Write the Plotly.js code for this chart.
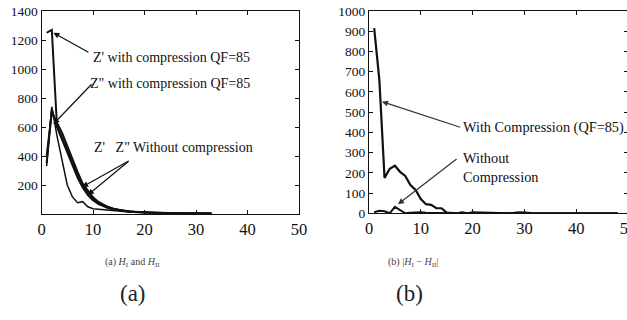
<!DOCTYPE html>
<html>
<head>
<meta charset="utf-8">
<script src="https://cdn.plot.ly/plotly-3.0.1.min.js"></script>
<style>
html,body{margin:0;padding:0;background:#fff;overflow:hidden;width:627px;height:320px;}
#chart{width:640px;height:320px;}
</style>
</head>
<body>
<div id="chart"></div>
<script>
// ---- Panel (a): H_I and H_II ----
const binsA = [1,2,3,4,5,6,7,8,9,10,11,12,13,14,15,16,17,18,19,20,21,22,23,24,25,26,27,28,29,30,31,32,33];
const zPrimeComp = [1250,1270,610,530,440,350,268,200,148,108,80,60,45,35,28,22,18,15,13,11,10,9,8,7,6,6,5,5,5,4,4,3,3];
const zDblComp   = [330,740,540,360,200,118,78,85,50,36,32,30,27,22,18,15,13,12,10,9,8,7,6,6,5,5,4,4,4,3,3,3,3];
const zPrimeNo   = [400,700,630,560,470,375,290,210,158,115,85,63,46,36,28,22,18,15,13,11,10,9,8,7,7,6,6,5,5,5,4,4,4];
const zDblNo     = [350,720,600,515,425,335,252,182,130,95,70,54,40,32,25,20,16,14,12,10,9,8,7,6,6,5,5,4,4,4,3,3,3];
const ticksAx = [0,10,20,30,40,50];
const ticksAy = [200,400,600,800,1000,1200,1400];

// ---- Panel (b): |H_I - H_II| ----
const binsB = [1,2,3,4,5,6,7,8,9,10,11,12,13,14,15,16,17,18,19,20,21,22,23,24,25,26,27,28,29,30,31,32,33,34,35,36,37,38,39,40,41,42,43,44,45,46,47,48];
const diffComp = [915,660,175,220,235,205,185,140,115,70,45,42,25,25,3,2,0,5,0,5,4,5,4,0,0,0,0,2,5,3,0,0,0,0,0,0,0,0,0,0,0,0,0,0,0,0,0,0];
const diffNo   = [5,12,10,0,32,18,0,3,5,5,3,2,0,0,0,0,0,0,0,0,0,0,0,0,0,0,0,0,0,0,0,0,0,0,0,0,0,0,0,0,0,0,0,0,0,0,0,0];
const ticksBx = [0,10,20,30,40,50];
const ticksBy = [0,100,200,300,400,500,600,700,800,900,1000];

const W = 640, H = 320;
const px = v => v / W;
const py = v => (H - v) / H;
const serif = "'Liberation Serif', 'DejaVu Serif', serif";

function line(x, y, xa, ya, w) {
  return {x: x, y: y, xaxis: xa, yaxis: ya, type: 'scatter', mode: 'lines',
          line: {color: '#111', width: w}, hoverinfo: 'skip', showlegend: false};
}

const data = [
  line(binsA, zPrimeNo, 'x', 'y', 2),
  line(binsA, zDblNo, 'x', 'y', 2),
  line(binsA, zDblComp, 'x', 'y', 1.5),
  line(binsA, zPrimeComp, 'x', 'y', 2),
  line(binsB, diffNo, 'x2', 'y2', 2),
  line(binsB, diffComp, 'x2', 'y2', 2.2)
];

const axisBase = {
  showline: true, mirror: 'ticks', linecolor: '#111', linewidth: 1,
  ticks: 'inside', ticklen: 4, tickcolor: '#111', showgrid: false, zeroline: false,
  tickfont: {family: serif, size: 13.5, color: '#111'}
};

function arrow(xr, yr, hx, hy, tx, ty, color) {
  return {xref: xr, yref: yr, axref: xr, ayref: yr,
          x: hx, y: hy, ax: tx, ay: ty, text: '', showarrow: true,
          arrowhead: 2, arrowsize: 1, arrowwidth: 1.2, arrowcolor: color};
}
function label(xr, yr, x, y, t, size) {
  return {xref: xr, yref: yr, x: x, y: y, text: t, showarrow: false,
          xanchor: 'left', yanchor: 'middle', align: 'left',
          font: {family: serif, size: size, color: '#111'}};
}

const annotations = [
  // panel (a)
  arrow('x', 'y', 2.3, 1250, 9.4, 1110, '#111'),
  arrow('x', 'y', 2.3, 620, 10.0, 905, '#111'),
  arrow('x', 'y', 7.9, 186, 17.2, 372, '#111'),
  arrow('x', 'y', 9.0, 131, 17.2, 372, '#111'),
  label('x', 'y', 9.6, 1076, "Z' with compression QF=85", 14),
  label('x', 'y', 9.0, 903, 'Z" with compression QF=85', 14),
  label('x', 'y', 9.8, 462, "Z'&nbsp;&nbsp;&nbsp;Z\" Without compression", 14),
  // panel (b)
  arrow('x2', 'y2', 2.5, 552, 17.9, 423, '#333'),
  arrow('x2', 'y2', 5.6, 45, 17.2, 274, '#333'),
  label('x2', 'y2', 17.8, 423, 'With Compression (QF=85)', 14.3),
  label('x2', 'y2', 17.8, 224, 'Without<br>Compression', 14.3),
  // captions
  {xref: 'paper', yref: 'paper', x: px(132), y: py(262), showarrow: false,
   text: '(a) <i>H</i><sub>I</sub> and <i>H</i><sub>II</sub>',
   font: {family: serif, size: 10, color: '#444'}, xanchor: 'center', yanchor: 'middle'},
  {xref: 'paper', yref: 'paper', x: px(413), y: py(262), showarrow: false,
   text: '(b) |<i>H</i><sub>I</sub> \u2212 <i>H</i><sub>II</sub>|',
   font: {family: serif, size: 10, color: '#444'}, xanchor: 'center', yanchor: 'middle'},
  {xref: 'paper', yref: 'paper', x: px(133), y: py(293), showarrow: false,
   text: '(a)', font: {family: serif, size: 23, color: '#222'}, xanchor: 'center', yanchor: 'middle'},
  {xref: 'paper', yref: 'paper', x: px(409), y: py(293), showarrow: false,
   text: '(b)', font: {family: serif, size: 23, color: '#222'}, xanchor: 'center', yanchor: 'middle'}
];

const layout = {
  width: W, height: H,
  margin: {l: 0, r: 0, t: 0, b: 0, pad: 0},
  paper_bgcolor: '#fff', plot_bgcolor: '#fff',
  showlegend: false,
  font: {family: serif},
  xaxis: Object.assign({}, axisBase, {domain: [px(41.5), px(299)], range: [0, 50],
          tickvals: ticksAx, ticktext: ticksAx.map(String), anchor: 'y',
          tickfont: {family: serif, size: 16.5, color: '#111'}}),
  yaxis: Object.assign({}, axisBase, {domain: [py(214), py(11)], range: [0, 1400],
          tickvals: ticksAy, ticktext: ticksAy.map(String), anchor: 'x'}),
  xaxis2: Object.assign({}, axisBase, {domain: [px(369), px(628)], range: [0, 50],
          tickvals: ticksBx, ticktext: ticksBx.map(String), anchor: 'y2',
          tickfont: {family: serif, size: 16.5, color: '#111'}}),
  yaxis2: Object.assign({}, axisBase, {domain: [py(213.3), py(11)], range: [0, 1000],
          tickvals: ticksBy, ticktext: ticksBy.map(String), anchor: 'x2'}),
  annotations: annotations
};

Plotly.newPlot('chart', data, layout, {staticPlot: true, displayModeBar: false});
</script>
</body>
</html>
